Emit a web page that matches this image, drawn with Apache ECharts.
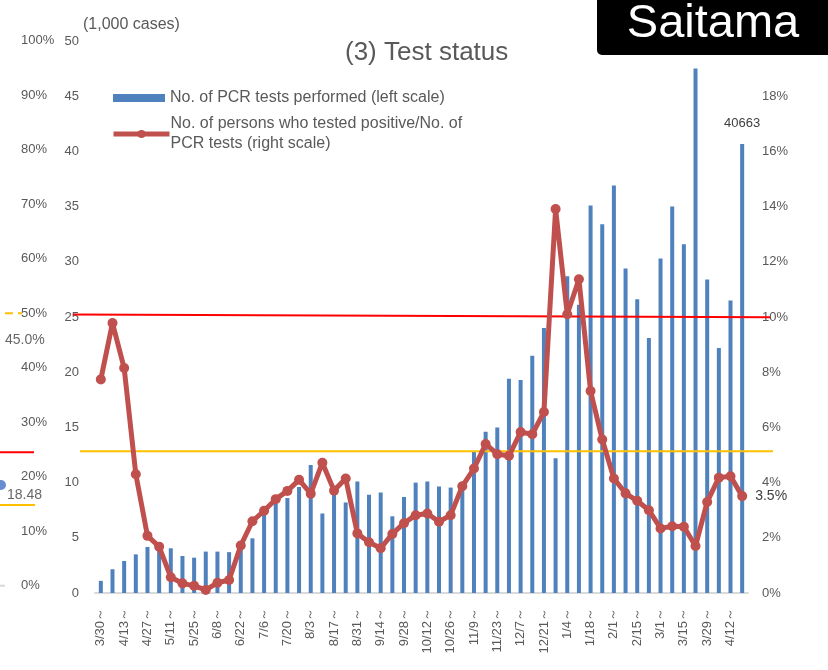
<!DOCTYPE html>
<html><head><meta charset="utf-8">
<script src="https://cdn.jsdelivr.net/npm/echarts@6/dist/echarts.min.js"></script>
<style>html,body{margin:0;padding:0;background:#fff}#c{width:828px;height:670px}</style>
</head><body><div id="c"></div>
<script>
// Week starting dates (2020/3/30 – 2021/4/19)
const categories = ['3/30','4/6','4/13','4/20','4/27','5/4','5/11','5/18','5/25','6/1','6/8','6/15','6/22','6/29',
  '7/6','7/13','7/20','7/27','8/3','8/10','8/17','8/24','8/31','9/7','9/14','9/21','9/28','10/5','10/12','10/19',
  '10/26','11/2','11/9','11/16','11/23','11/30','12/7','12/14','12/21','12/28','1/4','1/11','1/18','1/25',
  '2/1','2/8','2/15','2/22','3/1','3/8','3/15','3/22','3/29','4/5','4/12','4/19'];
// No. of PCR tests performed (1,000 cases)
const pcrTests = [1.1,2.15,2.9,3.5,4.17,4.1,4.05,3.35,3.2,3.75,3.75,3.7,4.1,4.95,
  7.1,8.1,8.6,9.6,11.6,7.2,9.3,8.2,10.1,8.9,9.1,6.95,8.7,10.0,10.1,9.65,
  9.55,9.7,12.8,14.6,15.0,19.4,19.3,21.5,24.0,12.2,28.7,26.1,35.1,33.4,
  36.9,29.4,26.6,23.1,30.3,35.0,31.6,47.5,28.4,22.2,26.5,40.663];
// Positive rate (%)
const positiveRate = [7.74,9.78,8.15,4.30,2.07,1.68,0.57,0.35,0.26,0.11,0.37,0.47,1.72,2.60,
  2.98,3.40,3.70,4.10,3.60,4.72,3.71,4.15,2.16,1.84,1.62,2.14,2.53,2.82,2.88,2.58,
  2.82,3.87,4.51,5.40,5.03,4.97,5.83,5.75,6.56,13.91,10.10,11.37,7.32,5.56,
  4.15,3.61,3.34,3.00,2.34,2.42,2.40,1.70,3.30,4.18,4.23,3.51];
// Reference lines on the right scale (%): [value at left end, value at right end]
const redRefLine = [10.09, 9.99];
const yellowRefLine = [5.14, 5.14];
// Fragment of the neighbouring chart on the far left (%)
const fragOrangeLine = 50;
const fragRedLine = 24.5;
const fragYellowLine = 14.8;
const fragDot = 18.48;
const fragLabelValue = 45.0;

const barName = 'No. of PCR tests performed (left scale)';
const lineName = 'No. of persons who tested positive/No. of\nPCR tests (right scale)';
const FONT = '"Liberation Sans", Arial, sans-serif';
const GREY = '#595959';

const chart = echarts.init(document.getElementById('c'), null, {renderer: 'canvas'});
const last = pcrTests.length - 1;

chart.setOption({
  animation: false,
  textStyle: {fontFamily: FONT},
  title: {text: '(3) Test status', left: 345, top: 40, padding: 0,
    textStyle: {fontSize: 26, fontWeight: 'normal', color: GREY, fontFamily: FONT}},
  legend: [
    {data: [barName], left: 113, top: 88, padding: 0, orient: 'vertical', itemWidth: 52, itemHeight: 8,
      icon: 'rect', textStyle: {fontSize: 16, color: GREY, lineHeight: 20, fontFamily: FONT}},
    {data: [lineName], left: 111, top: 114, padding: 0, orient: 'vertical', itemWidth: 56, itemHeight: 10,
      itemGap: 0,
      lineStyle: {width: 5, color: '#c0504d'},
      itemStyle: {color: '#c0504d'},
      textStyle: {fontSize: 16, color: GREY, lineHeight: 20, fontFamily: FONT, padding: [0, 0, 0, -4]}}
  ],
  grid: [
    {left: 95, right: 80, top: 41, bottom: 77, containLabel: false},
    {left: 0, width: 40, top: 40.7, bottom: 84.3, containLabel: false}
  ],
  xAxis: [
    {type: 'category', data: categories, gridIndex: 0,
      axisLine: {lineStyle: {color: '#d9d9d9', width: 2}}, axisTick: {show: false},
      axisLabel: {rotate: 90, interval: 1, margin: 15, fontSize: 13, color: GREY, fontFamily: FONT,
        formatter: v => v + '～'}},
    {type: 'value', gridIndex: 1, min: 0, max: 1, show: false}
  ],
  yAxis: [
    {type: 'value', gridIndex: 0, min: 0, max: 50, interval: 5, position: 'left',
      axisLine: {show: false}, axisTick: {show: false}, splitLine: {show: false},
      axisLabel: {margin: 16, fontSize: 13, color: GREY, fontFamily: FONT}},
    {type: 'value', gridIndex: 0, min: 0, max: 20, interval: 2, position: 'right',
      axisLine: {show: false}, axisTick: {show: false}, splitLine: {show: false},
      axisLabel: {margin: 14, fontSize: 13, color: GREY, fontFamily: FONT, formatter: '{value}%'}},
    {type: 'value', gridIndex: 1, min: 0, max: 100, interval: 10, position: 'left',
      axisLine: {show: false}, axisTick: {show: false}, splitLine: {show: false},
      axisLabel: {margin: -21, align: 'left', fontSize: 13, color: GREY, fontFamily: FONT, formatter: '{value}%'}}
  ],
  series: [
    {name: barName, type: 'bar', xAxisIndex: 0, yAxisIndex: 0, barWidth: 4, z: 2,
      itemStyle: {color: '#4f81bd'},
      label: {show: false, position: 'top', distance: 14, fontSize: 13, color: '#404040', fontFamily: FONT,
        formatter: p => String(Math.round(p.value * 1000))},
      data: pcrTests.map((v, i) => i === last ? {value: v, label: {show: true}} : v)},
    {name: lineName, type: 'line', xAxisIndex: 0, yAxisIndex: 1, z: 4,
      symbol: 'circle', symbolSize: 10, showAllSymbol: true,
      lineStyle: {color: '#c0504d', width: 5}, itemStyle: {color: '#c0504d'},
      label: {show: false, position: 'right', distance: 8, fontSize: 14, color: '#404040', fontFamily: FONT,
        formatter: p => p.value.toFixed(1) + '%'},
      data: positiveRate.map((v, i) => i === last ? {value: v, label: {show: true}} : v)},
    // fragments of the neighbouring chart
    {type: 'line', xAxisIndex: 1, yAxisIndex: 2, clip: false, symbol: 'none', silent: true,
      lineStyle: {color: '#ffc000', width: 2, type: [8, 5]},
      data: [[0.125, fragOrangeLine], [0.55, fragOrangeLine]]},
    {type: 'line', xAxisIndex: 1, yAxisIndex: 2, clip: false, symbol: 'none', silent: true,
      lineStyle: {color: '#ff0000', width: 2},
      data: [[0, fragRedLine], [0.85, fragRedLine]]},
    {type: 'line', xAxisIndex: 1, yAxisIndex: 2, clip: false, symbol: 'none', silent: true,
      lineStyle: {color: '#ffc000', width: 2},
      data: [[0, fragYellowLine], [0.875, fragYellowLine]]},
    {type: 'line', xAxisIndex: 1, yAxisIndex: 2, clip: false, symbol: 'none', silent: true,
      lineStyle: {color: '#d9d9d9', width: 2},
      data: [[0, 0], [0.125, 0]]},
    {type: 'scatter', xAxisIndex: 1, yAxisIndex: 2, clip: false, silent: true, symbolSize: 10,
      itemStyle: {color: '#4472c4'},
      label: {show: true, position: [11, 15], align: 'left', verticalAlign: 'middle', fontSize: 14,
        color: '#404040', fontFamily: FONT, formatter: p => p.value[1].toFixed(2)},
      data: [[0.025, fragDot]]},
    {type: 'scatter', xAxisIndex: 1, yAxisIndex: 2, clip: false, silent: true, symbolSize: 0,
      label: {show: true, position: 'right', distance: 0, fontSize: 14, color: '#404040', fontFamily: FONT,
        formatter: p => p.value[1].toFixed(1) + '%'},
      data: [[0.125, fragLabelValue]]}
  ],
  graphic: [
    {id: 'unit', type: 'text', left: 83, top: 17, z: 10,
      style: {text: '(1,000 cases)', fontSize: 16, fill: GREY, fontFamily: FONT}},
    {id: 'boxBg', type: 'rect', z: 100, shape: {x: 597, y: -6, width: 240, height: 61, r: [0, 0, 0, 5]},
      style: {fill: '#000'}},
    {id: 'boxText', type: 'text', z: 101, x: 713, y: 24,
      style: {text: 'Saitama', fontSize: 47, fill: '#fff', fontFamily: FONT, align: 'center', verticalAlign: 'middle'}}
  ]
});

// Reference lines: y positions come from the right axis scale
const yRed0 = chart.convertToPixel({yAxisIndex: 1}, redRefLine[0]);
const yRed1 = chart.convertToPixel({yAxisIndex: 1}, redRefLine[1]);
const yYel0 = chart.convertToPixel({yAxisIndex: 1}, yellowRefLine[0]);
const yYel1 = chart.convertToPixel({yAxisIndex: 1}, yellowRefLine[1]);
chart.setOption({
  graphic: [
    {id: 'refYellow', type: 'line', z: 3, silent: true,
      shape: {x1: 80, y1: yYel0, x2: 773, y2: yYel1}, style: {stroke: '#ffc000', lineWidth: 2}},
    {id: 'refRed', type: 'line', z: 3, silent: true,
      shape: {x1: 73, y1: yRed0, x2: 770, y2: yRed1}, style: {stroke: '#ff0000', lineWidth: 2}}
  ]
});
</script></body></html>
